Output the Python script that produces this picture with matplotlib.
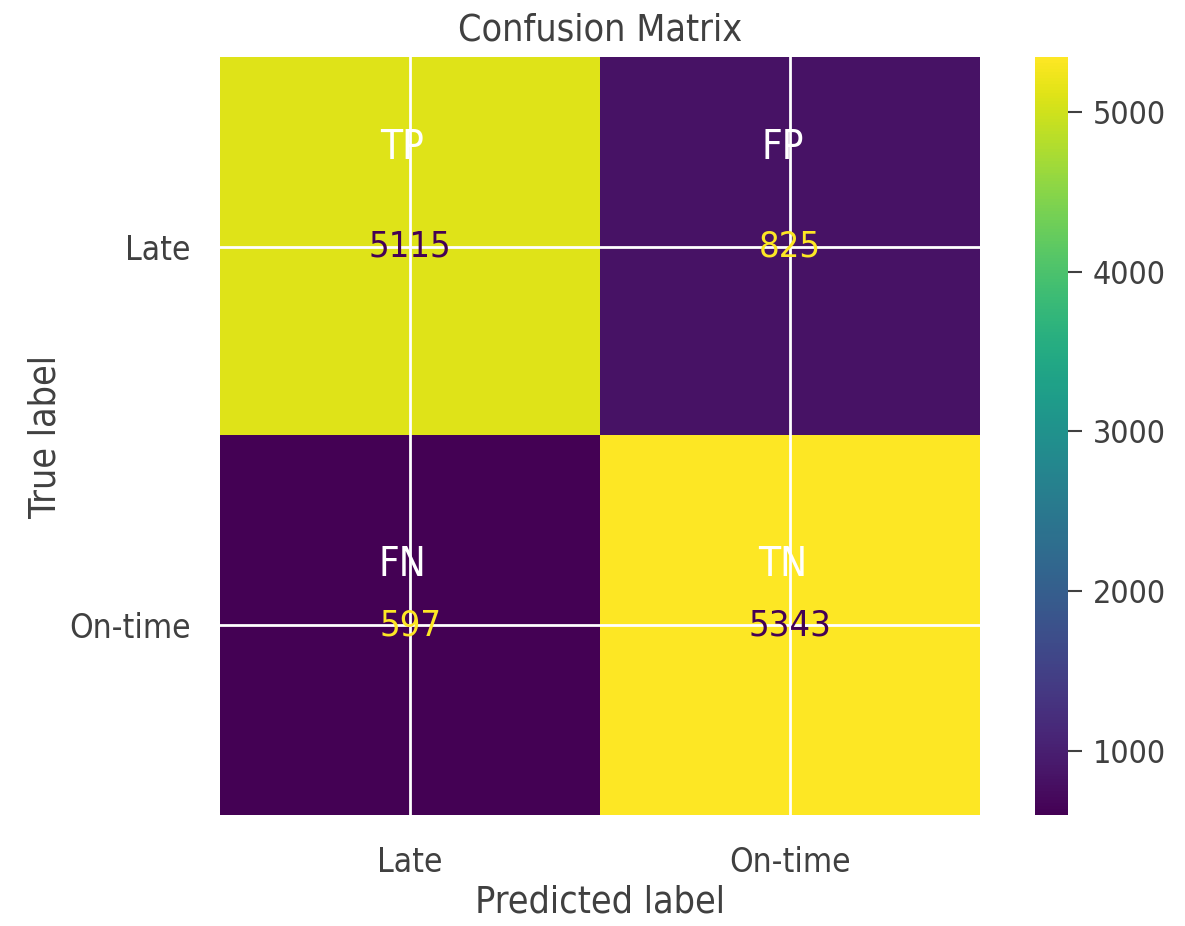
import numpy as np
import matplotlib.pyplot as plt

# confusion matrix counts (rows: true, cols: predicted)
labels = ['Late', 'On-time']
cm = np.array([[5115, 825],
               [597, 5343]])
cell_names = [['TP', 'FP'],
              ['FN', 'TN']]
name_offset = [0.26, 0.16]   # how far above the count each row's name sits
cbar_ticks = [1000, 2000, 3000, 4000, 5000]

plt.rcParams['font.family'] = 'DejaVu Sans'
plt.rcParams['font.stretch'] = 'condensed'
plt.rcParams['text.color'] = '0.25'
plt.rcParams['axes.labelcolor'] = '0.25'
plt.rcParams['xtick.color'] = '0.25'
plt.rcParams['ytick.color'] = '0.25'

fig = plt.figure(figsize=(11.85, 9.26), dpi=100)
ax = fig.add_axes([0.1857, 0.1199, 0.6413, 0.8185])
cax = fig.add_axes([0.8734, 0.1199, 0.0278, 0.8185])

cmap = plt.get_cmap('viridis')
im = ax.imshow(cm, cmap=cmap, interpolation='nearest', aspect='auto', zorder=0)

# text colour like sklearn: bright text on dark cells and vice versa
thresh = (cm.max() + cm.min()) / 2.0
for i in range(2):
    for j in range(2):
        c = cmap(1.0) if cm[i, j] < thresh else cmap(0.0)
        ax.text(j, i, str(cm[i, j]), ha='center', va='center', color=c, fontsize=26)
        ax.text(j - 0.02, i - name_offset[i], cell_names[i][j], ha='center', va='center',
                color='white', fontsize=29)

ax.set_xticks(range(2))
ax.set_yticks(range(2))
ax.set_xticklabels(labels)
ax.set_yticklabels(labels)
ax.tick_params(length=0, labelsize=24, pad=22)
ax.tick_params(axis='y', pad=21)
ax.grid(True, color='white', linewidth=2, zorder=1)
ax.set_axisbelow(False)
for s in ax.spines.values():
    s.set_visible(False)

ax.set_xlabel('Predicted label', fontsize=27, labelpad=4)
ax.set_ylabel('True label', fontsize=27, labelpad=4)
ax.set_title('Confusion Matrix', fontsize=27, pad=12)

cb = fig.colorbar(im, cax=cax)
cb.outline.set_visible(False)
cb.set_ticks(cbar_ticks)
cax.tick_params(length=10, width=1.5, labelsize=23, pad=8, color='0.25')

fig.savefig('out.png', dpi=100, facecolor='white')
